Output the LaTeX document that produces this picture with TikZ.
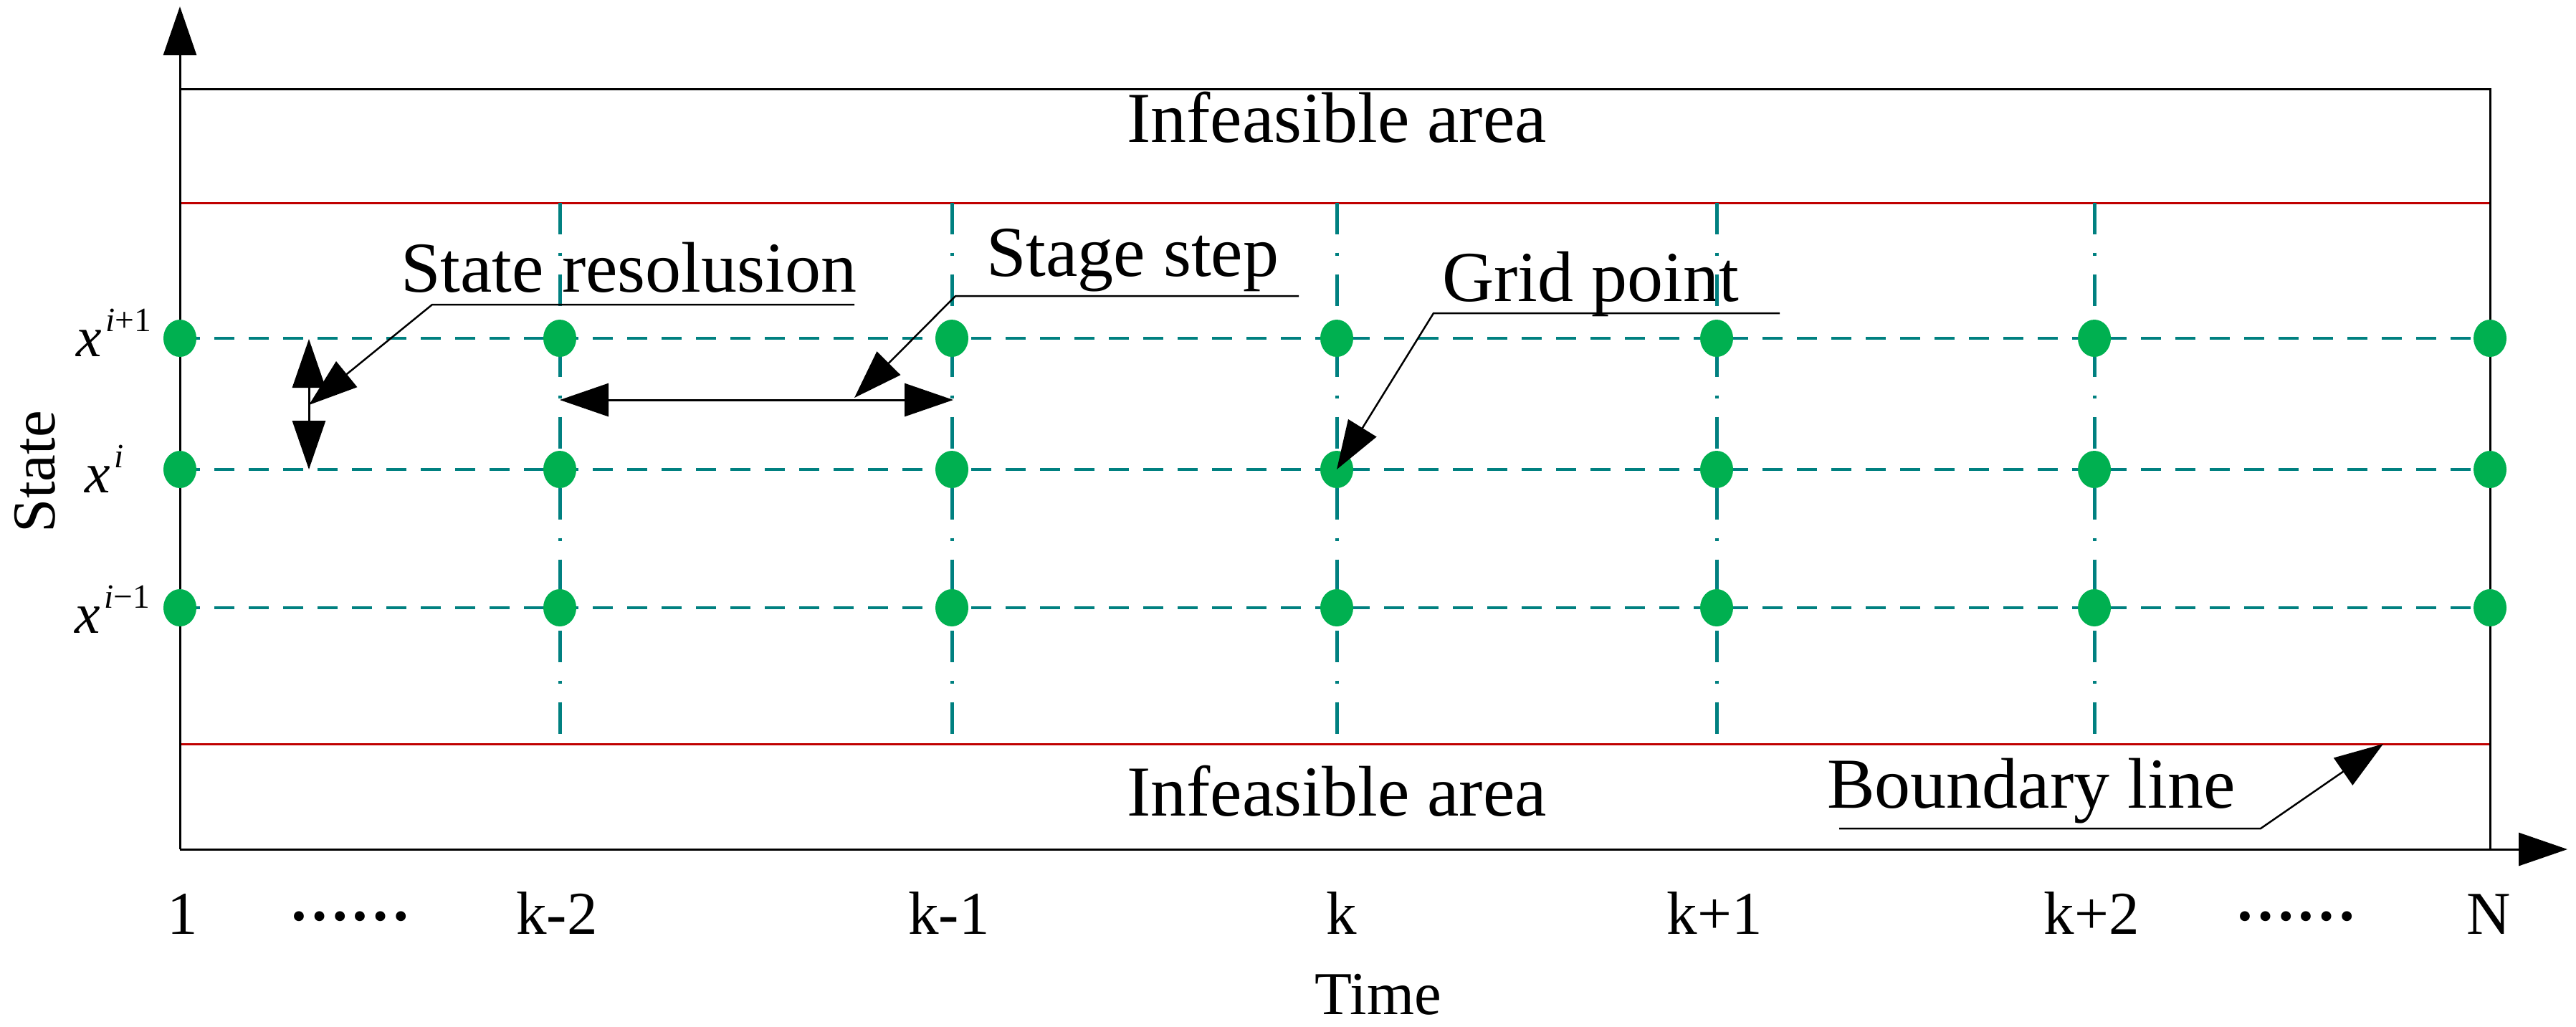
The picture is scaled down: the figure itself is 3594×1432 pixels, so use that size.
\documentclass[tikz,border=0pt]{standalone}
\usepackage{fontspec}
\setmainfont{Liberation Serif}
\usetikzlibrary{arrows.meta,shapes.geometric}
\definecolor{tealline}{RGB}{0,128,128}
\definecolor{dotgreen}{RGB}{0,176,80}
\definecolor{bred}{RGB}{192,0,0}
\begin{document}
\begin{tikzpicture}[x=0.2pt,y=-0.2pt,
  bigtext/.style={font=\fontsize{20pt}{24pt}\selectfont, inner sep=0},
  ticklabel/.style={font=\fontsize{17pt}{20pt}\selectfont, inner sep=0, anchor=base},
  mathlabel/.style={inner sep=0, anchor=base west},
  gridpt/.style={ellipse, fill=dotgreen, draw=none, minimum width=9.2pt, minimum height=10.4pt, inner sep=0},
  stageline/.style={tealline, line width=1pt, dash pattern=on 8.8pt off 5.1pt on 0.9pt off 5.1pt},
  stateline/.style={tealline, line width=0.75pt, dash pattern=on 5.6pt off 4pt},
  boundline/.style={bred, line width=0.6pt},
  frameline/.style={black, line width=0.6pt},
  leader/.style={black, line width=0.5pt},
  >={Triangle[length=13.6pt,width=9.2pt]}
]
\path[use as bounding box] (0,0) rectangle (3594,1432);

% texts
\node[bigtext, anchor=base] (inftop) at (1865,198) {Infeasible area};
\node[bigtext, anchor=base] (infbot) at (1865,1138) {Infeasible area};
\node[bigtext, anchor=base west] (sr) at (558,407) {State resolusion};
\node[bigtext, anchor=base west] (ss) at (1375,385) {Stage step};
\node[bigtext, anchor=base west] (gp) at (2011,420) {Grid point};
\node[bigtext, anchor=base west] (bl) at (2548,1127) {Boundary line};

% axis labels
\node[ticklabel] (t1) at (255,1303) {1};
\node[ticklabel, font=\fontsize{17pt}{20pt}\selectfont\bfseries] (tdots1) at (488,1284) {……};
\node[ticklabel] (tkm2) at (777,1303) {k-2};
\node[ticklabel] (tkm1) at (1324,1303) {k-1};
\node[ticklabel] (tk) at (1872,1303) {k};
\node[ticklabel] (tkp1) at (2392,1303) {k+1};
\node[ticklabel] (tkp2) at (2918,1303) {k+2};
\node[ticklabel, font=\fontsize{17pt}{20pt}\selectfont\bfseries] (tdots2) at (3203,1284) {……};
\node[ticklabel] (tN) at (3472,1303) {N};
\node[ticklabel] (time) at (1923,1415) {Time};
\node[ticklabel, rotate=90] (state) at (76,658) {State};

\node[mathlabel] (xip1) at (105,497) {\fontsize{16pt}{18pt}\selectfont\textit{x}\kern1.2pt\raisebox{7pt}{\fontsize{9.5pt}{10pt}\selectfont\textit{i}+1}};
\node[mathlabel] (xi) at (117,687) {\fontsize{16pt}{18pt}\selectfont\textit{x}\kern1.2pt\raisebox{7pt}{\fontsize{9.5pt}{10pt}\selectfont\textit{i}}};
\node[mathlabel] (xim1) at (103,883) {\fontsize{16pt}{18pt}\selectfont\textit{x}\kern1.2pt\raisebox{7pt}{\fontsize{9.5pt}{10pt}\selectfont\textit{i}−1}};

% frame coordinates
\coordinate (O) at (251,1185);
\coordinate (ytip) at (251,9);
\coordinate (xtip) at (3582,1185);
\coordinate (TL) at (251,124);
\coordinate (TR) at (3474,124);
\coordinate (BR) at (3474,1185);
\coordinate (RTl) at (251,283);
\coordinate (RTr) at (3474,283);
\coordinate (RBl) at (251,1038);
\coordinate (RBr) at (3474,1038);

% boundary lines
\draw[boundline] (RTl) -- (RTr);
\draw[boundline] (RBl) -- (RBr);

% frame and axes
\draw[frameline] (TL) -- (TR) -- (BR);
\draw[frameline,->] (O) -- (ytip);
\draw[frameline,->] (O) -- (xtip);

% stage lines
\foreach \x [count=\c] in {781,1328,1865,2395,2922} {
  \coordinate (vt\c) at (\x,283);
  \coordinate (vb\c) at (\x,1038);
  \draw[stageline] (vt\c) -- (vb\c);
}
% state lines
\foreach \y [count=\r] in {472,655,848} {
  \coordinate (hl\r) at (251,\y);
  \coordinate (hr\r) at (3474,\y);
  \draw[stateline] (hl\r) -- (hr\r);
}
% grid points
\foreach \x [count=\c] in {251,781,1328,1865,2395,2922,3474} {
  \foreach \y [count=\r] in {472,655,848} {
    \node[gridpt] (d\c-\r) at (\x,\y) {};
  }
}

% state resolution double arrow
\coordinate (sra) at (431,473);
\coordinate (srb) at (431,655);
\draw[frameline,<->] (sra) -- (srb);
\coordinate (srtip) at (431,565);
\coordinate (sru1) at (1192,425);
\coordinate (sru0) at (603,425);
\draw[leader,->] (sru1) -- (sru0) -- (srtip);

% stage step double arrow
\coordinate (ssa) at (781,558);
\coordinate (ssb) at (1330,558);
\draw[frameline,<->] (ssa) -- (ssb);
\coordinate (ssu1) at (1812,413);
\coordinate (ssu0) at (1333,413);
\coordinate (sstip) at (1192,555);
\draw[leader,->] (ssu1) -- (ssu0) -- (sstip);

% grid point leader
\coordinate (gpu1) at (2483,437);
\coordinate (gpu0) at (2000,437);
\draw[leader,->] (gpu1) -- (gpu0) -- (d4-2.center);

% boundary leader
\coordinate (blu0) at (2566,1156);
\coordinate (blu1) at (3154,1156);
\coordinate (bltip) at (3325,1038);
\draw[leader,->] (blu0) -- (blu1) -- (bltip);
\end{tikzpicture}
\end{document}
